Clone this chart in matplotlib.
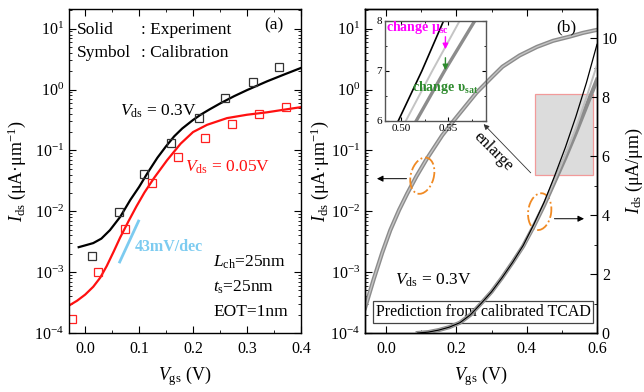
import numpy as np
import matplotlib
matplotlib.use('Agg')
import matplotlib.pyplot as plt
from matplotlib.patches import Ellipse, Rectangle
from matplotlib.transforms import ScaledTranslation
from matplotlib.ticker import MultipleLocator, LogLocator, NullFormatter

plt.rcParams['font.family'] = ['Liberation Serif', 'DejaVu Serif']
plt.rcParams['mathtext.fontset'] = 'custom'
plt.rcParams['mathtext.rm'] = 'Liberation Serif'
plt.rcParams['mathtext.it'] = 'Liberation Serif:italic'
plt.rcParams['mathtext.bf'] = 'Liberation Serif:bold'
plt.rcParams['xtick.direction'] = 'in'
plt.rcParams['ytick.direction'] = 'in'
plt.rcParams['axes.linewidth'] = 1.0

# ---- panel (a): experiment (lines) and calibration (squares)
vgs_exp_03 = [-0.012, 0.0, 0.015, 0.03, 0.046, 0.065, 0.084, 0.1, 0.115, 0.134, 0.15, 0.165, 0.18,
              0.2, 0.214, 0.23, 0.25, 0.276, 0.3, 0.337, 0.37, 0.4]
ids_exp_03 = [2.57e-3, 2.75e-3, 3.0e-3, 3.55e-3, 4.9e-3, 8.1e-3, 0.0155, 0.0251, 0.0417, 0.0759, 0.117,
              0.170, 0.229, 0.316, 0.385, 0.468, 0.589, 0.776, 0.977, 1.36, 1.78, 2.26]
vgs_exp_005 = [-0.03, -0.015, 0.0, 0.015, 0.028, 0.04, 0.053, 0.065, 0.08, 0.095, 0.11, 0.128, 0.152,
               0.177, 0.2, 0.226, 0.263, 0.3, 0.337, 0.37, 0.4]
ids_exp_005 = [2.82e-4, 3.39e-4, 4.27e-4, 5.75e-4, 8.13e-4, 1.26e-3, 2.19e-3, 3.72e-3, 6.76e-3, 0.0120,
               0.0204, 0.0355, 0.0692, 0.129, 0.200, 0.263, 0.339, 0.385, 0.422, 0.468, 0.513]

vgs_cal_03 = [0.012, 0.062, 0.109, 0.160, 0.211, 0.26, 0.311, 0.36]
ids_cal_03 = [1.85e-3, 9.8e-3, 0.041, 0.133, 0.34, 0.73, 1.34, 2.3]
vgs_cal_005 = [-0.025, 0.023, 0.073, 0.123, 0.173, 0.223, 0.273, 0.323, 0.372]
ids_cal_005 = [1.7e-4, 1e-3, 5.1e-3, 0.029, 0.078, 0.16, 0.27, 0.40, 0.52]

ss_vgs = [0.064, 0.099]
ss_ids = [1.47e-3, 6.9e-3]

# ---- panel (b): TCAD prediction
vgs_log = [-0.06, -0.035, -0.011, 0.012, 0.037, 0.06, 0.086, 0.114, 0.16, 0.194, 0.257, 0.3, 0.331,
           0.38, 0.429, 0.475, 0.523, 0.56, 0.6]
ids_log = [2.57e-4, 7.76e-4, 2.09e-3, 4.9e-3, 0.0105, 0.0195, 0.0372, 0.070, 0.178, 0.316, 0.885, 1.58,
           2.37, 3.63, 5.01, 6.31, 7.41, 8.51, 9.55]

vgs_lin = [0.09, 0.12, 0.15, 0.18, 0.21, 0.24, 0.27, 0.3, 0.33, 0.36, 0.39, 0.42, 0.45, 0.48, 0.51,
           0.54, 0.57, 0.6]
ids_lin_base = [0.0, 0.03, 0.1, 0.2, 0.35, 0.62, 1.0, 1.4, 1.88, 2.4, 2.95, 3.62, 4.35, 5.15, 5.95,
                6.8, 7.7, 8.6]
ids_lin_vsat = [0.0, 0.03, 0.1, 0.2, 0.35, 0.62, 1.0, 1.4, 1.88, 2.4, 2.95, 3.63, 4.38, 5.2, 6.05,
                6.95, 8.0, 9.1]
ids_lin_mu = [0.0, 0.03, 0.1, 0.2, 0.35, 0.62, 1.0, 1.4, 1.88, 2.4, 2.97, 3.68, 4.45, 5.35, 6.3,
              7.35, 8.5, 9.8]

vgs_ins_mu = [0.497, 0.522, 0.545]
vgs_ins_vsat = [0.505, 0.533, 0.562]
vgs_ins_base = [0.516, 0.546, 0.578]
ids_ins = [6, 7, 8]

fig = plt.figure(figsize=(6.44, 3.92), dpi=100)
axa = fig.add_axes([0.1071, 0.1505, 0.3602, 0.8265])
axb = fig.add_axes([0.5668, 0.1505, 0.3602, 0.8265])

fs_tick = 11.5
fs_lab = 13
fs_txt = 12.5

# ================= (a)
axa.plot(vgs_exp_03, ids_exp_03, color='black', lw=1.6)
axa.plot(vgs_exp_005, ids_exp_005, color='#ff1010', lw=1.6)
axa.plot(vgs_cal_03, ids_cal_03, 's', mfc='none', mec='#333333', ms=5.5, mew=0.9)
axa.plot(vgs_cal_005, ids_cal_005, 's', mfc='none', mec='#ff2020', ms=5.5, mew=0.9)
axa.plot(ss_vgs, ss_ids, color='#7ccbf0', lw=2.0)
axa.set_yscale('log')
axa.set_xlim(-0.03, 0.4)
axa.set_ylim(1e-4, 21)
axa.xaxis.set_major_locator(MultipleLocator(0.1))
axa.xaxis.set_minor_locator(MultipleLocator(0.05))
axa.yaxis.set_major_locator(LogLocator(base=10, numticks=10))
axa.yaxis.set_minor_locator(LogLocator(base=10, subs=np.arange(2, 10), numticks=20))
axa.yaxis.set_minor_formatter(NullFormatter())
axa.tick_params(which='both', top=True, right=True, labelsize=fs_tick)
axa.tick_params(axis='x', which='both', pad=6)
axa.tick_params(which='major', length=5)
axa.tick_params(which='minor', length=2.5)
axa.set_xlabel('$V_{\\rm gs}$ (V)', fontsize=fs_lab)
axa.set_ylabel('$I_{\\rm ds}$ (μA·μm$^{-1}$)', fontsize=fs_lab)
axa.xaxis.set_label_coords(0.5, -0.095)
axa.yaxis.set_label_coords(-0.175, 0.5)

axa.text(0.034, 0.935, 'Solid', transform=axa.transAxes, fontsize=fs_txt, va='center')
axa.text(0.31, 0.935, ': Experiment', transform=axa.transAxes, fontsize=fs_txt, va='center')
axa.text(0.034, 0.864, 'Symbol', transform=axa.transAxes, fontsize=fs_txt, va='center')
axa.text(0.31, 0.864, ': Calibration', transform=axa.transAxes, fontsize=fs_txt, va='center')
axa.text(0.884, 0.951, '(a)', transform=axa.transAxes, fontsize=12.5, ha='center', va='center')
axa.text(0.22, 0.685, '$V_{\\rm ds}$ = 0.3V', transform=axa.transAxes, fontsize=fs_txt, va='center')
axa.text(0.50, 0.512, '$V_{\\rm ds}$ = 0.05V', transform=axa.transAxes, fontsize=fs_txt, va='center',
         color='#ff1010')
axa.text(0.284, 0.265, '43mV/dec', transform=axa.transAxes, fontsize=11.5, va='center',
         color='#7ccbf0', fontweight='bold')
axa.text(0.621, 0.219, '$L_{\\rm ch}$=25nm', transform=axa.transAxes, fontsize=fs_txt, va='center')
axa.text(0.621, 0.142, '$t_{\\rm s}$=25nm', transform=axa.transAxes, fontsize=fs_txt, va='center')
axa.text(0.621, 0.065, 'EOT=1nm', transform=axa.transAxes, fontsize=fs_txt, va='center')

# ================= (b)
axb.plot(vgs_log, ids_log, color='#8c8c8c', lw=3.0)
axb.plot(vgs_log, ids_log, color='#c4c4c4', lw=1.0)
axb.set_yscale('log')
axb.set_xlim(-0.06, 0.6)
axb.set_ylim(1e-4, 21)
axb.xaxis.set_major_locator(MultipleLocator(0.2))
axb.xaxis.set_minor_locator(MultipleLocator(0.1))
axb.yaxis.set_major_locator(LogLocator(base=10, numticks=10))
axb.yaxis.set_minor_locator(LogLocator(base=10, subs=np.arange(2, 10), numticks=20))
axb.yaxis.set_minor_formatter(NullFormatter())
axb.tick_params(which='both', top=True, labelsize=fs_tick)
axb.tick_params(axis='x', which='both', pad=6)
axb.tick_params(which='major', length=5)
axb.tick_params(which='minor', length=2.5)
axb.set_xlabel('$V_{\\rm gs}$ (V)', fontsize=fs_lab)
axb.set_ylabel('$I_{\\rm ds}$ (μA·μm$^{-1}$)', fontsize=fs_lab)
axb.xaxis.set_label_coords(0.5, -0.095)
axb.yaxis.set_label_coords(-0.148, 0.5)

axr = axb.twinx()
axr.plot(vgs_lin, ids_lin_base, color='#8c8c8c', lw=3.0)
axr.plot(vgs_lin, ids_lin_vsat, color='#c0c0c0', lw=1.4)
axr.plot(vgs_lin, ids_lin_mu, color='black', lw=0.9)
axr.set_ylim(0, 11)
axr.yaxis.set_major_locator(MultipleLocator(2))
axr.yaxis.set_minor_locator(MultipleLocator(1))
axr.tick_params(which='both', labelsize=fs_tick)
axr.tick_params(which='major', length=5)
axr.tick_params(which='minor', length=2.5)
axr.set_ylabel('$I_{\\rm ds}$ (μA/μm)', fontsize=fs_lab)
axr.yaxis.set_label_coords(1.118, 0.5)

# highlighted region and markers
axr.add_patch(Rectangle((0.423, 5.36), 0.166, 2.74, facecolor='#dcdcdc', edgecolor='#f29a9a', lw=0.9, zorder=1))
# dash-dot rings, sized in inches and centred on data points
for cx, cy, ang in [(0.103, 5.34, -15), (0.437, 4.12, -8)]:
    tr = fig.dpi_scale_trans + ScaledTranslation(cx, cy, axr.transData)
    axr.add_patch(Ellipse((0, 0), 0.23, 0.37, angle=ang, fill=False, edgecolor='#f08a24',
                          lw=1.3, ls='-.', transform=tr))
axr.annotate('', xy=(-0.034, 5.24), xytext=(0.066, 5.24),
             arrowprops=dict(arrowstyle='-|>', color='black', lw=0.7, mutation_scale=9))
axr.annotate('', xy=(0.571, 3.88), xytext=(0.471, 3.88),
             arrowprops=dict(arrowstyle='-|>', color='black', lw=0.7, mutation_scale=9))
axr.annotate('', xy=(0.272, 7.16), xytext=(0.417, 5.37),
             arrowprops=dict(arrowstyle='-|>', color='#333333', lw=0.6, mutation_scale=8))
axr.text(0.305, 6.15, 'enlarge', rotation=-45, fontsize=12, ha='center', va='center')

axb.text(0.866, 0.944, '(b)', transform=axb.transAxes, fontsize=12.5, ha='center', va='center')
axb.text(0.13, 0.164, '$V_{\\rm ds}$ = 0.3V', transform=axb.transAxes, fontsize=fs_txt, va='center')
axb.text(0.509, 0.065, 'Prediction from calibrated TCAD', transform=axb.transAxes, fontsize=11.5,
         ha='center', va='center',
         bbox=dict(boxstyle='square,pad=0.18', facecolor='white', edgecolor='#444444', lw=0.9))

# ================= inset
axi = fig.add_axes([385 / 644, (392 - 121) / 392, 101 / 644, 100 / 392])
axi.patch.set_alpha(0)
axi.plot(vgs_ins_base, ids_ins, color='#8c8c8c', lw=2.4)
axi.plot(vgs_ins_vsat, ids_ins, color='#c4c4c4', lw=1.4)
axi.plot(vgs_ins_mu, ids_ins, color='black', lw=1.2)
axi.set_xlim(0.483, 0.59)
axi.set_ylim(6, 8)
axi.xaxis.set_major_locator(MultipleLocator(0.05))
axi.xaxis.set_minor_locator(MultipleLocator(0.025))
axi.yaxis.set_major_locator(MultipleLocator(1))
axi.yaxis.set_minor_locator(MultipleLocator(0.5))
axi.xaxis.set_major_formatter(plt.FormatStrFormatter('%.2f'))
axi.tick_params(which='both', top=True, right=True, labelsize=8, pad=2)
axi.tick_params(which='major', length=3)
axi.tick_params(which='minor', length=1.5)
for s in axi.spines.values():
    s.set_color('#555555')
axi.text(0.01, 0.94, 'change μ$_{\\mathbf{sc}}$', transform=axi.transAxes, fontsize=10,
         color='#ff00ff', fontweight='bold', va='center')
axi.text(0.27, 0.34, 'change υ$_{\\mathbf{sat}}$', transform=axi.transAxes, fontsize=10,
         color='#2e8b2e', fontweight='bold', va='center')
axi.annotate('', xy=(0.547, 7.38), xytext=(0.547, 7.74),
             arrowprops=dict(arrowstyle='-|>', color='#ff00ff', lw=1.0, mutation_scale=8))
axi.annotate('', xy=(0.547, 6.96), xytext=(0.547, 7.32),
             arrowprops=dict(arrowstyle='-|>', color='#2e8b2e', lw=1.0, mutation_scale=8))

fig.savefig('out.png', dpi=100)
